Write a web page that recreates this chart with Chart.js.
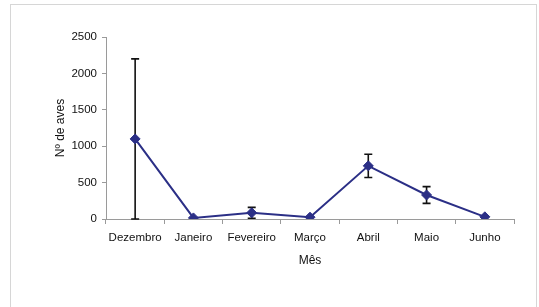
<!DOCTYPE html>
<html>
<head>
<meta charset="utf-8">
<script src="https://cdn.jsdelivr.net/npm/chart.js@4"></script>
<style>
    html, body { margin: 0; padding: 0; background: #fff; }
    #moldura { position: absolute; left: 0; top: 0; width: 539px; height: 307px; }
    #borda { position: absolute; left: 10px; top: 4px; width: 527px; height: 310px;
             border: 1px solid #d6d6d6; box-sizing: border-box; }
    canvas { position: absolute; left: 0; top: 0; }
</style>
</head>
<body>
<div id="moldura">
    <div id="borda"></div>
    <canvas id="graficoAves" width="539" height="307"></canvas>
</div>
<script>
// dados
const meses = ['Dezembro', 'Janeiro', 'Fevereiro', 'Março', 'Abril', 'Maio', 'Junho'];
const mediaAves = [1100, 15, 85, 25, 730, 330, 30];
const desvioAves = [1100, 0, 75, 0, 160, 115, 0];
const ticksY = [0, 500, 1000, 1500, 2000, 2500];

const corLinha = '#2b2f86';
const corEixo = '#9a9a9a';

// barras de erro desenhadas com as escalas do próprio gráfico
const barrasErro = {
    id: 'barrasErro',
    beforeDatasetsDraw(chart) {
        const ctx = chart.ctx;
        const x = chart.scales.x;
        const y = chart.scales.y;
        ctx.save();
        ctx.strokeStyle = '#111';
        ctx.lineWidth = 1.6;
        mediaAves.forEach((v, i) => {
            const d = desvioAves[i];
            if (!d) return;
            const px = x.getPixelForValue(i);
            const topo = y.getPixelForValue(v + d);
            const base = y.getPixelForValue(Math.max(0, v - d));
            ctx.beginPath();
            ctx.moveTo(px, topo); ctx.lineTo(px, base);
            ctx.moveTo(px - 4, topo); ctx.lineTo(px + 4, topo);
            ctx.moveTo(px - 4, base); ctx.lineTo(px + 4, base);
            ctx.stroke();
        });
        ctx.restore();
    }
};

const fonteTicks = { family: 'Liberation Sans, Arial, sans-serif', size: 11.5 };
const fonteTitulo = { family: 'Liberation Sans, Arial, sans-serif', size: 12 };

new Chart(document.getElementById('graficoAves'), {
    type: 'line',
    data: {
        labels: meses,
        datasets: [{
            data: mediaAves,
            borderColor: corLinha,
            backgroundColor: corLinha,
            borderWidth: 2,
            pointStyle: 'rectRot',
            pointRadius: 5,
            pointBorderWidth: 1,
            tension: 0
        }]
    },
    options: {
        responsive: false,
        animation: false,
        events: [],
        layout: { padding: { top: 37, right: 25, left: 0, bottom: 0 } },
        plugins: { legend: { display: false }, tooltip: { enabled: false } },
        scales: {
            x: {
                offset: true,
                grid: { display: true, drawOnChartArea: false, color: corEixo, tickLength: 5, offset: true },
                border: { color: corEixo, width: 1 },
                ticks: { color: '#111', font: fonteTicks, padding: 7, maxRotation: 0, autoSkip: false },
                title: { display: true, text: 'Mês', color: '#111', font: fonteTitulo, padding: { top: 4, bottom: 39 } },
                afterFit(s) { s.height = 88; }
            },
            y: {
                min: 0,
                max: 2500,
                afterBuildTicks(s) { s.ticks = ticksY.map(v => ({ value: v })); },
                grid: { display: true, drawOnChartArea: false, color: corEixo, tickLength: 4 },
                border: { color: corEixo, width: 1 },
                ticks: { color: '#111', font: fonteTicks, padding: 5, callback: v => String(v) },
                title: { display: true, text: 'Nº de aves', color: '#111', font: fonteTitulo, padding: { top: 53, bottom: 0 } },
                afterFit(s) { s.width = 106; }
            }
        }
    },
    plugins: [barrasErro]
});
</script>
</body>
</html>
